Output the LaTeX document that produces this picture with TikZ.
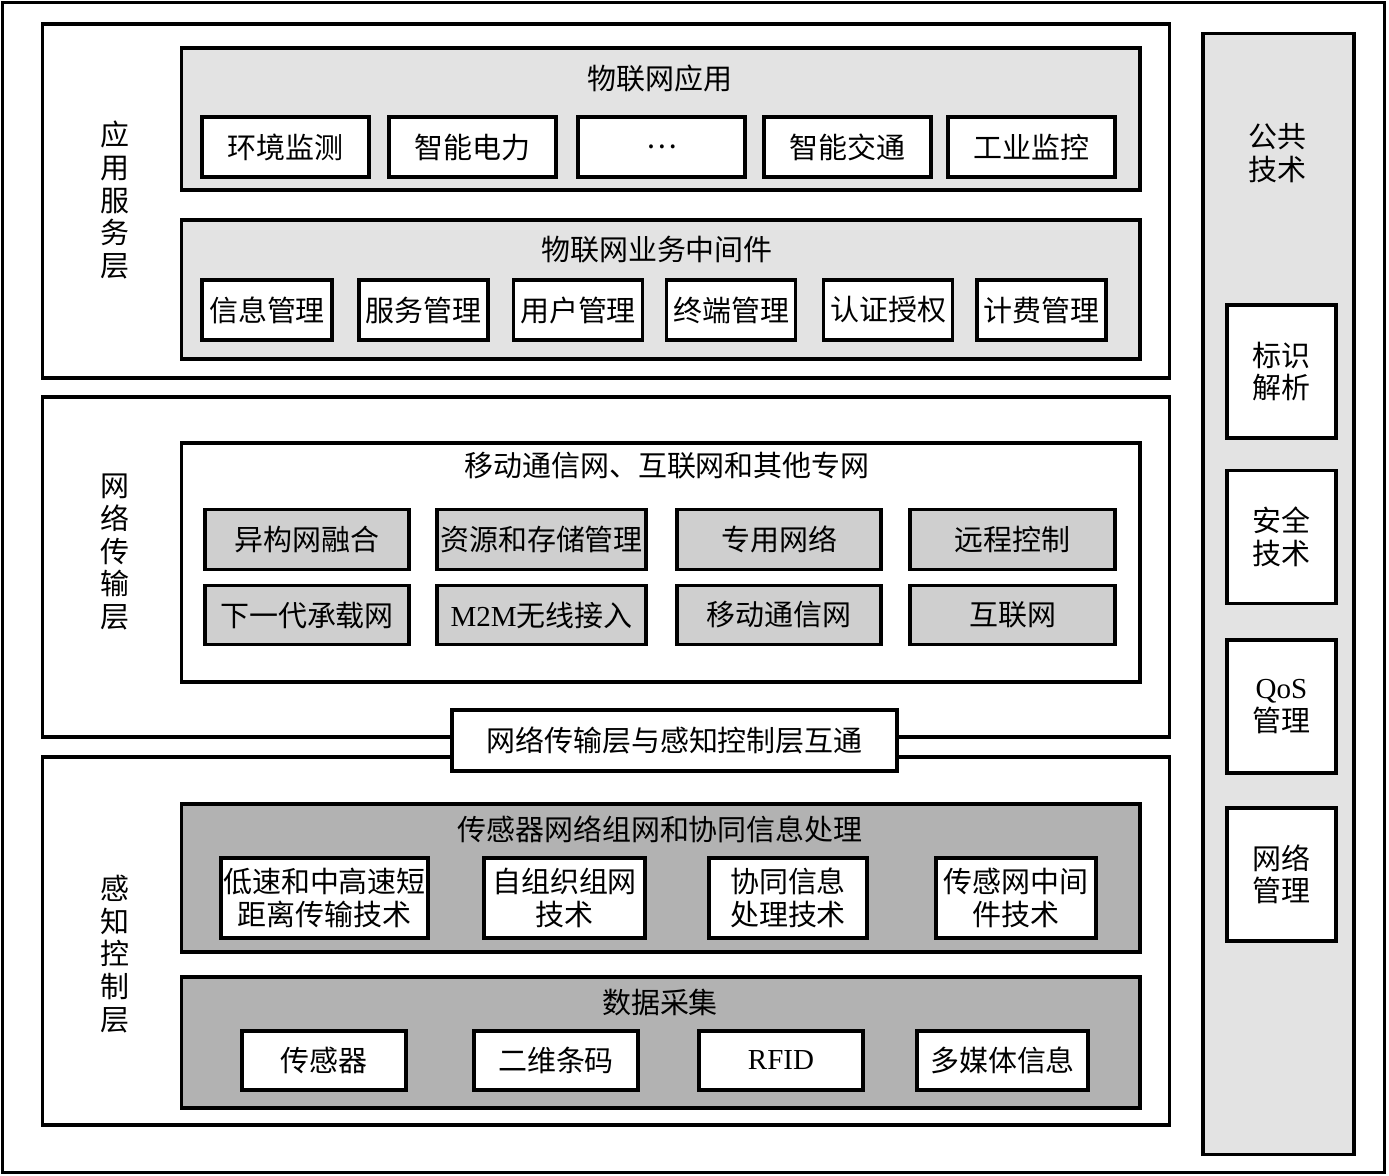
\documentclass[tikz,border=0pt]{standalone}
\usepackage{fontspec}
\setmainfont{Liberation Serif}
\newfontfamily\cjk{Noto Sans CJK SC}
\usepackage{tikz}
\usetikzlibrary{positioning}
\definecolor{panelgray}{gray}{0.89}
\definecolor{itemgray}{gray}{0.81}
\definecolor{darkgray}{gray}{0.70}
\begin{document}
\begin{tikzpicture}[
    x=0.02cm, y=-0.02cm,
    frame/.style={draw, line width=1.8pt, inner sep=0pt},
    layer/.style={frame, fill=white},
    panel/.style={frame, fill=panelgray, minimum width=19.18cm},
    box/.style={frame, fill=white, align=center, font=\cjk\fontsize{16.5}{18.5}\selectfont},
    netbox/.style={box, fill=itemgray, minimum height=1.19cm},
    title/.style={inner sep=0pt, font=\cjk\fontsize{16.5}{18.5}\selectfont},
    vlabel/.style={inner sep=0pt, align=center, font=\cjk\fontsize{16.5}{18.7}\selectfont}
]
\useasboundingbox (0,0) rectangle (1389,1176);
\node[frame, minimum width=27.66cm, minimum height=23.42cm] (outer) at (693.5,587.5) {};

\node[layer, minimum width=22.56cm, minimum height=7.08cm] (app) at (606,201) {};
\node[layer, minimum width=22.56cm, minimum height=6.8cm] (net) at (606,567) {};
\node[layer, minimum width=22.56cm, minimum height=7.36cm] (sense) at (606,941) {};
\node[vlabel] (applabel) at (115,200) {应\\用\\服\\务\\层};
\node[vlabel] (netlabel) at (115,552) {网\\络\\传\\输\\层};
\node[vlabel] (senselabel) at (115,954) {感\\知\\控\\制\\层};

\node[panel, minimum height=2.84cm] (iotapp) at (660.5,119) {};
\node[title] (iotapptitle) at (660,78) {物联网应用};
\node[box, minimum width=3.34cm, minimum height=1.2cm] (env) at (285.5,147) {环境监测};
\node[box, minimum width=3.34cm, minimum height=1.2cm] (power) at (472.5,147) {智能电力};
\node[box, minimum width=3.34cm, minimum height=1.2cm] (dots) at (661.5,147) {…};
\node[box, minimum width=3.34cm, minimum height=1.2cm] (traffic) at (847.5,147) {智能交通};
\node[box, minimum width=3.34cm, minimum height=1.2cm] (industry) at (1031.5,147) {工业监控};

\node[panel, minimum height=2.78cm] (middle) at (660.5,289.5) {};
\node[title] (middletitle) at (657,250) {物联网业务中间件};
\node[box, minimum width=2.6cm, minimum height=1.2cm] (info) at (267,310) {信息管理};
\node[box, minimum width=2.58cm, minimum height=1.2cm] (service) at (423.5,310) {服务管理};
\node[box, minimum width=2.58cm, minimum height=1.2cm] (user) at (578,310) {用户管理};
\node[box, minimum width=2.58cm, minimum height=1.2cm] (terminal) at (731,310) {终端管理};
\node[box, minimum width=2.58cm, minimum height=1.2cm] (auth) at (888,310) {认证授权};
\node[box, minimum width=2.58cm, minimum height=1.2cm] (billing) at (1041.5,310) {计费管理};

\node[panel, fill=white, minimum height=4.78cm] (nets) at (660.5,562.5) {};
\node[title] (netstitle) at (667,466) {移动通信网、互联网和其他专网};
\node[netbox, minimum width=4.08cm] (hetero) at (307,539.5) {异构网融合};
\node[netbox, minimum width=4.18cm] (storage) at (541.5,539.5) {资源和存储管理};
\node[netbox, minimum width=4.08cm] (private) at (779,539.5) {专用网络};
\node[netbox, minimum width=4.1cm] (remote) at (1012.5,539.5) {远程控制};
\node[netbox, minimum width=4.08cm] (nextgen) at (307,615) {下一代承载网};
\node[netbox, minimum width=4.18cm] (mtom) at (541.5,615) {\textrm{M2M}无线接入};
\node[netbox, minimum width=4.08cm] (mobile) at (779,615) {移动通信网};
\node[netbox, minimum width=4.1cm] (internet) at (1012.5,615) {互联网};

\node[box, minimum width=8.9cm, minimum height=1.22cm] (bridge) at (674.5,740.5) {网络传输层与感知控制层互通};

\node[panel, fill=darkgray, minimum height=2.96cm] (wsn) at (660.5,878) {};
\node[title] (wsntitle) at (660,829) {传感器网络组网和协同信息处理};
\node[box, minimum width=4.14cm, minimum height=1.6cm] (shortrange) at (324.5,898) {低速和中高速短\\距离传输技术};
\node[box, minimum width=3.22cm, minimum height=1.6cm] (selforg) at (564.5,898) {自组织组网\\技术};
\node[box, minimum width=3.16cm, minimum height=1.6cm] (coop) at (788,898) {协同信息\\处理技术};
\node[box, minimum width=3.2cm, minimum height=1.6cm] (wsnmid) at (1016,898) {传感网中间\\件技术};

\node[panel, fill=darkgray, minimum height=2.62cm] (daq) at (660.5,1042.5) {};
\node[title] (daqtitle) at (660,1002) {数据采集};
\node[box, minimum width=3.28cm, minimum height=1.18cm] (sensor) at (324,1060.5) {传感器};
\node[box, minimum width=3.28cm, minimum height=1.18cm] (qrcode) at (556,1060.5) {二维条码};
\node[box, minimum width=3.28cm, minimum height=1.18cm] (rfid) at (781,1060.5) {\textrm{RFID}};
\node[box, minimum width=3.42cm, minimum height=1.18cm] (media) at (1002.5,1060.5) {多媒体信息};

\node[frame, fill=panelgray, minimum width=3.02cm, minimum height=22.44cm] (common) at (1278.5,594) {};
\node[vlabel] (commontitle) at (1277,153) {公共\\技术};
\node[box, minimum width=2.18cm, minimum height=2.66cm] (ident) at (1281.5,371.5) {标识\\解析};
\node[box, minimum width=2.18cm, minimum height=2.66cm] (security) at (1281.5,537) {安全\\技术};
\node[box, minimum width=2.18cm, minimum height=2.66cm] (qos) at (1281.5,706.5) {\textrm{QoS}\\管理};
\node[box, minimum width=2.18cm, minimum height=2.66cm] (netmgmt) at (1281.5,874.5) {网络\\管理};
\end{tikzpicture}
\end{document}
